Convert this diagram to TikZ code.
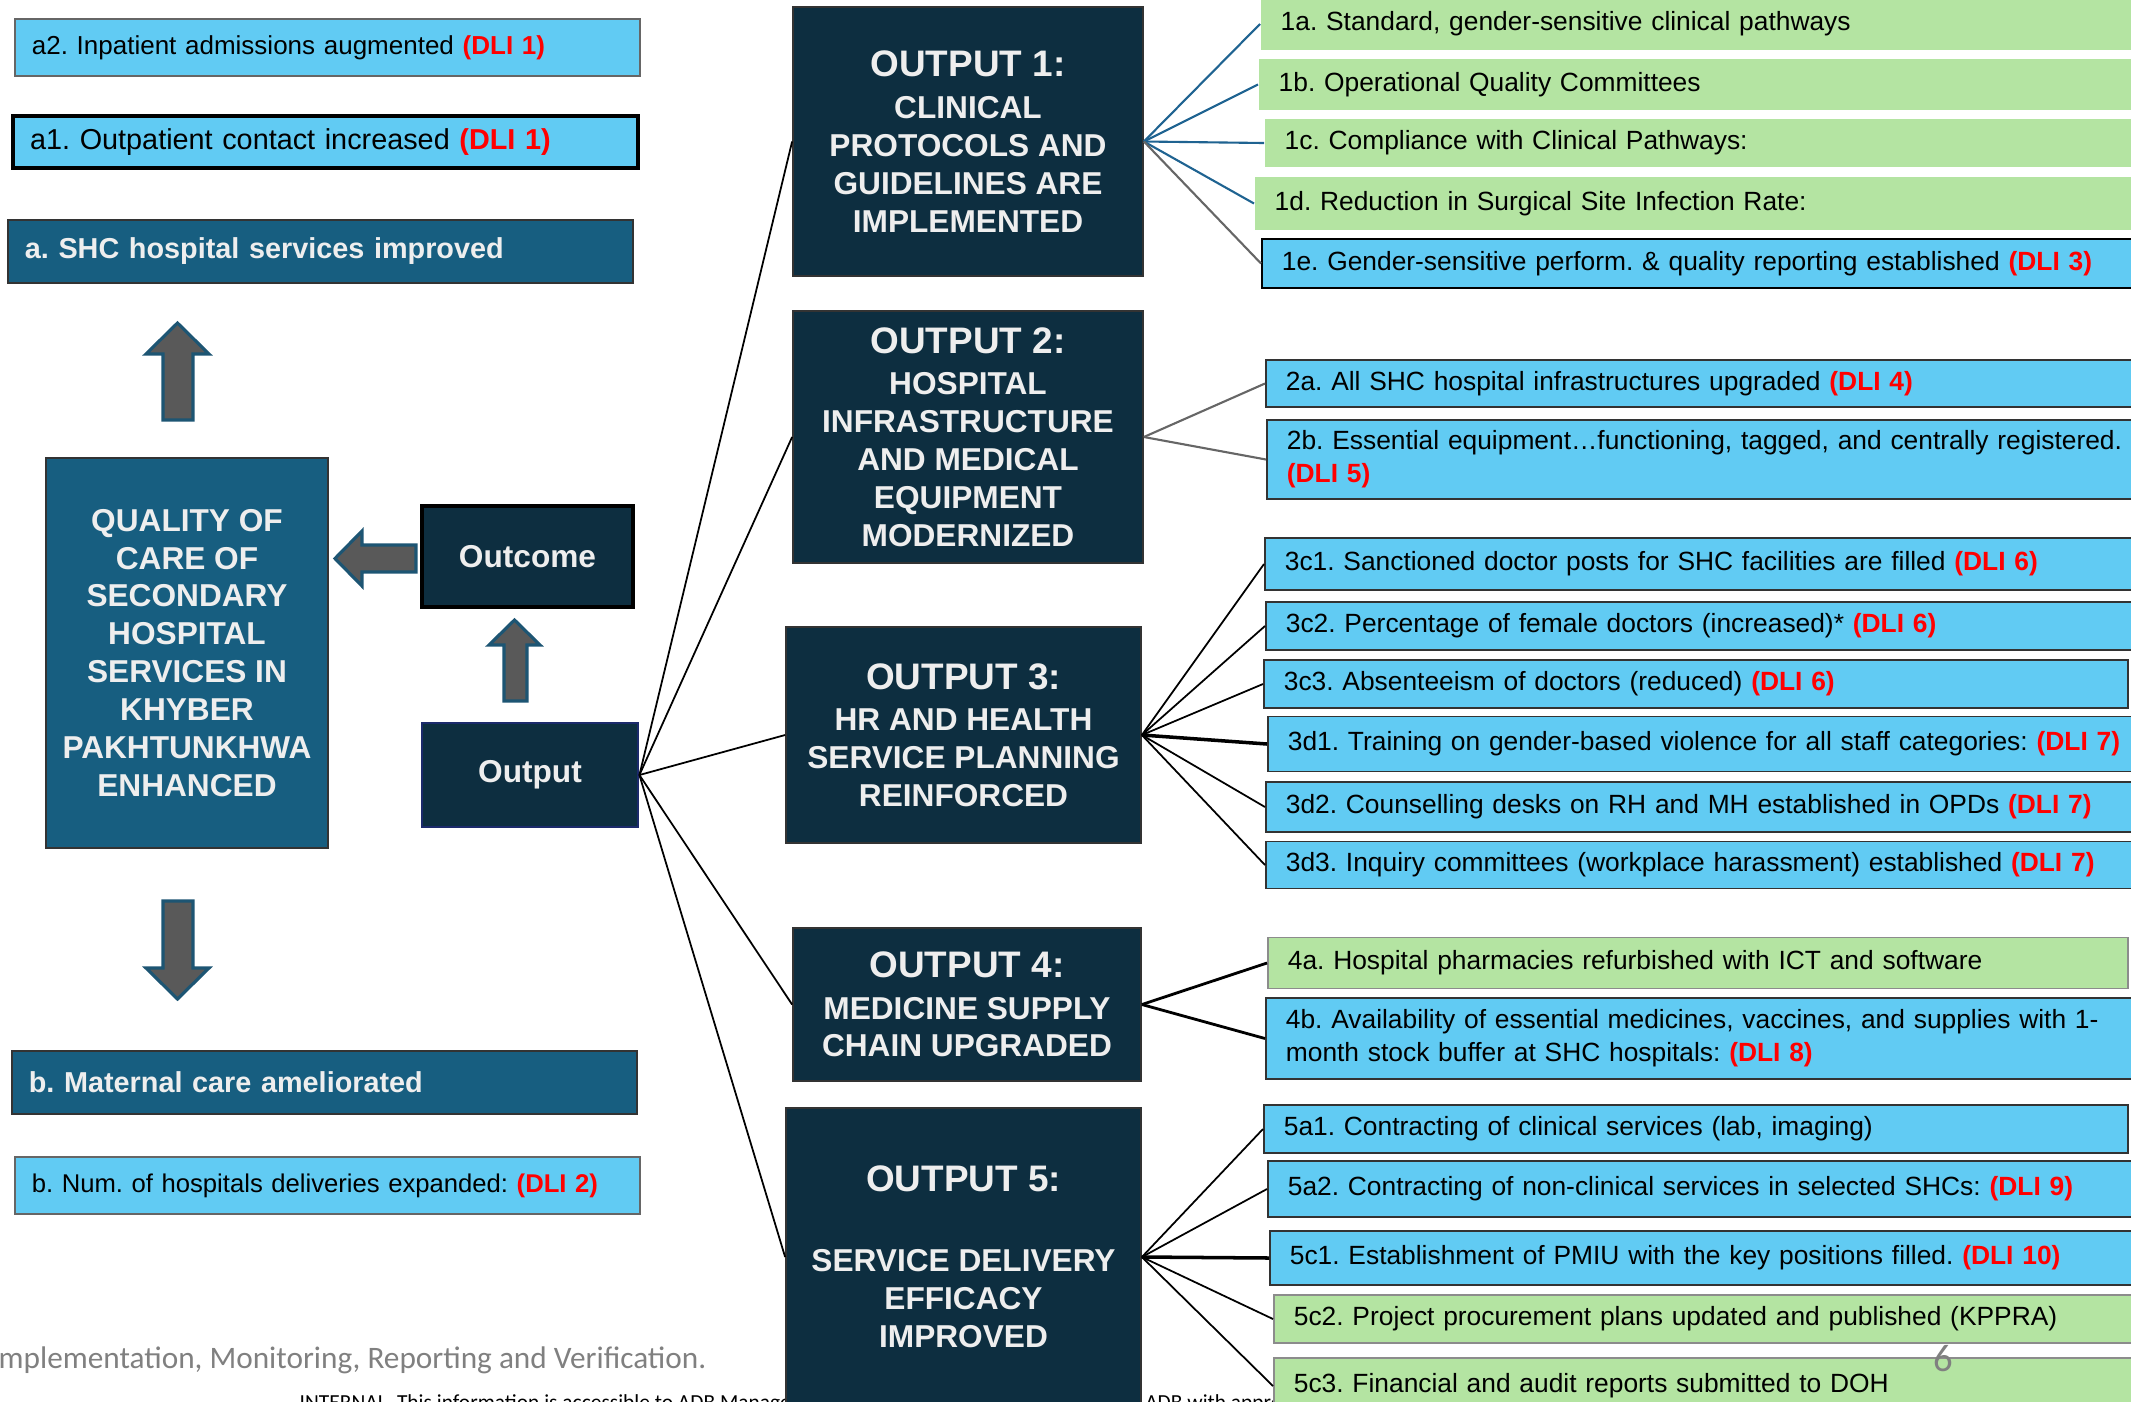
\documentclass[tikz,border=0pt]{standalone}
\usepackage{fontspec}
\setmainfont{Liberation Sans}
\newfontfamily\slidefont{Carlito}
\usepackage{tikz}
\frenchspacing

\definecolor{skyblue}{RGB}{97,203,243}
\definecolor{leafgreen}{RGB}{180,228,162}
\definecolor{navybox}{RGB}{13,46,64}
\definecolor{tealbox}{RGB}{23,94,128}
\definecolor{arrowgray}{RGB}{89,89,89}
\definecolor{arrowedge}{RGB}{29,85,115}
\definecolor{linkteal}{RGB}{31,99,145}
\definecolor{boxtext}{RGB}{238,238,238}
\definecolor{outputedge}{RGB}{27,42,107}
\newcommand{\dli}[1]{\textcolor{red}{\bfseries(DLI #1)}}
\newcommand{\outhead}{\fontsize{10.5}{12}\selectfont}

\begin{document}
\frenchspacing
\begin{tikzpicture}[x=0.1mm,y=-0.1mm,
	item/.style={anchor=west,align=left,text width=90mm,inner xsep=2mm,inner ysep=0pt,font=\fontsize{7.5}{9.4}\selectfont},
	bluebox/.style={item,fill=skyblue,draw=black!80,line width=0.5pt},
	greenbox/.style={item,fill=leafgreen},
	greenedge/.style={greenbox,draw=black!45,line width=0.5pt},
	leftbox/.style={anchor=west,align=left,text width=59.1mm,inner xsep=1.7mm,inner ysep=0pt,font=\fontsize{7.4}{9}\selectfont},
	tealrow/.style={leftbox,fill=tealbox,draw=black!80,line width=0.5pt,text=boxtext,font=\fontsize{8.2}{9.8}\selectfont\bfseries},
	outbox/.style={fill=navybox,draw=black!80,line width=0.5pt,text=boxtext,align=center,inner sep=0pt,font=\fontsize{9}{10.8}\selectfont\bfseries},
	blockarrow/.style={fill=arrowgray,draw=arrowedge,line width=0.9pt},
	link/.style={line width=0.5pt},
	tealline/.style={draw=linkteal,line width=0.6pt},
	grayline/.style={draw=black!60,line width=0.6pt}]
	  \useasboundingbox (0,0) rectangle (2131,1401);
	  \clip (0,0) rectangle (2131,1401);
	  % slide footer
	  \node[anchor=base west,inner sep=0pt,font=\slidefont\fontsize{6.1}{6.7}\selectfont] (note) at (299,1409) {INTERNAL. This information is accessible to ADB Management and staff. It may be shared outside ADB with appropriate permission.};
	  \node[anchor=base east,inner sep=0pt,text=black!50,font=\slidefont\fontsize{8.9}{10}\selectfont] (foot) at (707,1368) {Implementation, Monitoring, Reporting and Verification.};
	  % left column
	  \node[leftbox,fill=skyblue,draw=black!60,line width=0.5pt,minimum height=5.7mm] (a2) at (14,47.5) {a2. Inpatient admissions augmented \dli{1}};
	  \node[leftbox,fill=skyblue,draw=black,line width=1.2pt,minimum height=5.2mm,font=\fontsize{8.2}{9.8}\selectfont] (a1) at (11,142) {a1. Outpatient contact increased \dli{1}};
	  \node[tealrow,minimum height=6.3mm] (svc) at (7,251.5) {a. SHC hospital services improved};
	  \node[tealrow,minimum height=6.3mm] (maternal) at (11,1082.5) {b. Maternal care ameliorated};
	  \node[leftbox,fill=skyblue,draw=black!60,line width=0.5pt,minimum height=5.7mm,font=\fontsize{7.3}{9}\selectfont] (deliv) at (14,1185.5) {b. Num. of hospitals deliveries expanded: \dli{2}};
	  \node[outbox,fill=tealbox,minimum width=28.2mm,minimum height=39mm] (quality) at (187,653) {QUALITY OF\\CARE OF\\SECONDARY\\HOSPITAL\\SERVICES IN\\KHYBER\\PAKHTUNKHWA\\ENHANCED};
	  \node[outbox,draw=black,line width=1.1pt,minimum width=21.1mm,minimum height=10.1mm] (outcome) at (527.5,556.5) {Outcome};
	  \node[outbox,draw=outputedge,line width=0.8pt,minimum width=21.6mm,minimum height=10.4mm] (output) at (530,775) {Output};
	  \draw[blockarrow] (163,420) -- (163,354) -- (146,354) -- (177.5,323) -- (209,354) -- (193,354) -- (193,420) -- cycle;
	  \draw[blockarrow] (416,545) -- (362,545) -- (362,531) -- (335,558.5) -- (362,586) -- (362,572) -- (416,572) -- cycle;
	  \draw[blockarrow] (504,701) -- (504,645) -- (489,645) -- (514.5,620) -- (540,645) -- (527,645) -- (527,701) -- cycle;
	  \draw[blockarrow] (163,901) -- (163,968) -- (146,968) -- (177.5,999) -- (209,968) -- (193,968) -- (193,901) -- cycle;
	  % outputs
	  \node[outbox,minimum width=35mm,minimum height=26.9mm] (o1) at (968,141.5) {{\outhead OUTPUT 1:}\\[1pt]CLINICAL\\PROTOCOLS AND\\GUIDELINES ARE\\IMPLEMENTED};
	  \node[outbox,minimum width=35mm,minimum height=25.2mm] (o2) at (968,437) {{\outhead OUTPUT 2:}\\[1pt]HOSPITAL\\INFRASTRUCTURE\\AND MEDICAL\\EQUIPMENT\\MODERNIZED};
	  \node[outbox,minimum width=35.5mm,minimum height=21.6mm] (o3) at (963.5,735) {{\outhead OUTPUT 3:}\\[1pt]HR AND HEALTH\\SERVICE PLANNING\\REINFORCED};
	  \node[outbox,minimum width=34.8mm,minimum height=15.3mm] (o4) at (967,1004.5) {{\outhead OUTPUT 4:}\\[1pt]MEDICINE SUPPLY\\CHAIN UPGRADED};
	  \node[outbox,minimum width=35.5mm,minimum height=29.8mm] (o5) at (963.5,1257) {{\outhead OUTPUT 5:}\\[12pt]SERVICE DELIVERY\\EFFICACY\\IMPROVED};
	  \draw[link] (output.east) -- (o1.west);
	  \draw[link] (output.east) -- (o2.west);
	  \draw[link] (output.east) -- (o3.west);
	  \draw[link] (output.east) -- (o4.west);
	  \draw[link] (output.east) -- (o5.west);
	  % output 1 results
	  \node[greenbox,minimum height=5.2mm] (r1a) at (1260,24) {1a. Standard, gender-sensitive clinical pathways};
	  \node[greenbox,minimum height=5.1mm] (r1b) at (1258,84.5) {1b. Operational Quality Committees};
	  \node[greenbox,minimum height=4.8mm] (r1c) at (1264,143) {1c. Compliance with Clinical Pathways:};
	  \node[greenbox,minimum height=5.3mm] (r1d) at (1254,203.5) {1d. Reduction in Surgical Site Infection Rate:};
	  \node[bluebox,draw=black,minimum height=4.9mm] (r1e) at (1261,263.5) {1e. Gender-sensitive perform. \& quality reporting established \dli{3}};
	  \draw[tealline] (o1.east) -- (r1a.west);
	  \draw[tealline] (o1.east) -- (r1b.west);
	  \draw[tealline] (o1.east) -- (r1c.west);
	  \draw[tealline] (o1.east) -- (r1d.west);
	  \draw[grayline] (o1.east) -- (r1e.west);
	  % output 2 results
	  \node[bluebox,minimum height=4.7mm] (r2a) at (1265,383.5) {2a. All SHC hospital infrastructures upgraded \dli{4}};
	  \node[bluebox,minimum height=7.9mm] (r2b) at (1266,459.5) {2b. Essential equipment\dots functioning, tagged, and centrally registered.\\\dli{5}};
	  \draw[grayline] (o2.east) -- (r2a.west);
	  \draw[grayline] (o2.east) -- (r2b.west);
	  % output 3 results
	  \node[bluebox,minimum height=5.2mm] (r3c1) at (1264,564) {3c1. Sanctioned doctor posts for SHC facilities are filled \dli{6}};
	  \node[bluebox,minimum height=4.8mm] (r3c2) at (1265,626) {3c2. Percentage of female doctors (increased)* \dli{6}};
	  \node[bluebox,text width=82.4mm,minimum height=4.8mm] (r3c3) at (1263,684) {3c3. Absenteeism of doctors (reduced) \dli{6}};
	  \node[bluebox,minimum height=5.5mm] (r3d1) at (1267,744) {3d1. Training on gender-based violence for all staff categories: \dli{7}};
	  \node[bluebox,minimum height=5mm] (r3d2) at (1265,807) {3d2. Counselling desks on RH and MH established in OPDs \dli{7}};
	  \node[bluebox,minimum height=4.7mm] (r3d3) at (1265,865) {3d3. Inquiry committees (workplace harassment) established \dli{7}};
	  \draw[link] (o3.east) -- (r3c1.west);
	  \draw[link] (o3.east) -- (r3c2.west);
	  \draw[link] (o3.east) -- (r3c3.west);
	  \draw[link,line width=1pt] (o3.east) -- (r3d1.west);
	  \draw[link] (o3.east) -- (r3d2.west);
	  \draw[link] (o3.east) -- (r3d3.west);
	  % output 4 results
	  \node[greenedge,text width=82mm,minimum height=5.1mm] (r4a) at (1267,963) {4a. Hospital pharmacies refurbished with ICT and software};
	  \node[bluebox,minimum height=8.1mm] (r4b) at (1265,1038.5) {4b. Availability of essential medicines, vaccines, and supplies with 1-\\month stock buffer at SHC hospitals: \dli{8}};
	  \draw[link,line width=0.8pt] (o4.east) -- (r4a.west);
	  \draw[link,line width=0.8pt] (o4.east) -- (r4b.west);
	  % output 5 results
	  \node[bluebox,text width=82.4mm,minimum height=4.8mm] (r5a1) at (1263,1129) {5a1. Contracting of clinical services (lab, imaging)};
	  \node[bluebox,minimum height=5.6mm] (r5a2) at (1267,1189) {5a2. Contracting of non-clinical services in selected SHCs: \dli{9}};
	  \node[bluebox,minimum height=5.4mm] (r5c1) at (1269,1258) {5c1. Establishment of PMIU with the key positions filled. \dli{10}};
	  \node[greenedge,minimum height=4.8mm] (r5c2) at (1273,1319) {5c2. Project procurement plans updated and published (KPPRA)};
	  \node[greenedge,minimum height=5.6mm] (r5c3) at (1273,1386) {5c3. Financial and audit reports submitted to DOH};
	  \draw[link] (o5.east) -- (r5a1.west);
	  \draw[link] (o5.east) -- (r5a2.west);
	  \draw[link,line width=1pt] (o5.east) -- (r5c1.west);
	  \draw[link] (o5.east) -- (r5c2.west);
	  \draw[link] (o5.east) -- (r5c3.west);
	  \node[text=black!50,font=\slidefont\fontsize{11}{13}\selectfont] (pagenum) at (1943,1359) {6};
	\end{tikzpicture}
\end{document}
